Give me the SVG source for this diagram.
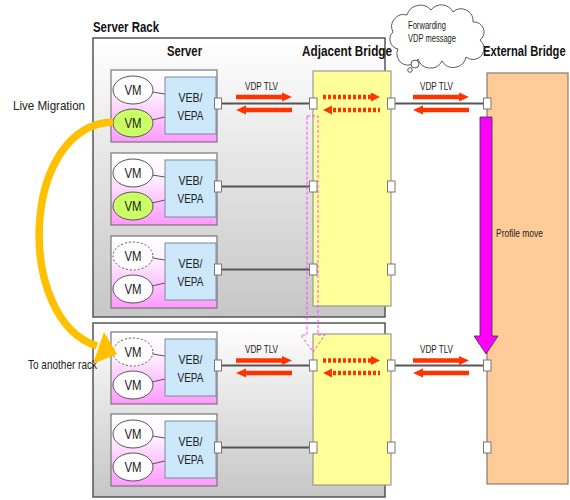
<svg xmlns="http://www.w3.org/2000/svg" width="570" height="500" viewBox="0 0 570 500">
  <defs>
    <linearGradient id="rackFill" x1="0" y1="0" x2="0" y2="1">
      <stop offset="0" stop-color="#ffffff"/>
      <stop offset="1" stop-color="#c6c6c6"/>
    </linearGradient>
    <linearGradient id="serverFill" x1="0" y1="0" x2="0" y2="1">
      <stop offset="0" stop-color="#ffffff"/>
      <stop offset="0.3" stop-color="#fff4ff"/>
      <stop offset="1" stop-color="#ff99ff"/>
    </linearGradient>
    <!-- one server: frame, two VMs, VEB/VEPA block -->
    <g id="serverBody">
      <rect class="srv" x="111" y="0" width="106" height="72"/>
      <line class="vmLink" x1="152" y1="22" x2="165" y2="24"/>
      <line class="vmLink" x1="152" y1="50" x2="165" y2="47"/>
      <rect class="veb" x="165" y="7" width="51" height="57"/>
      <text class="veb-t" x="190.5" y="32" textLength="24" lengthAdjust="spacingAndGlyphs">VEB/</text>
      <text class="veb-t" x="190.5" y="50" textLength="26" lengthAdjust="spacingAndGlyphs">VEPA</text>
    </g>
  </defs>
  <style>
    text { font-family: "Liberation Sans", Arial, sans-serif; fill: #222; }
    .rack { fill: url(#rackFill); stroke: #555; stroke-width: 1.5; }
    .srv { fill: url(#serverFill); stroke: #777; stroke-width: 1.2; }
    .veb { fill: #cce8fa; stroke: #7a8a95; stroke-width: 1; }
    .veb-t { font-size: 13px; text-anchor: middle; }
    .vmLink { stroke: #555; stroke-width: 1; }
    .vm { fill: #ffffff; stroke: #555; stroke-width: 1; }
    .vm-green { fill: #ccff66; }
    .vm-ghost { stroke-dasharray: 2 2; }
    .vm-t { font-size: 14px; text-anchor: middle; }
    .title { font-size: 14px; font-weight: bold; fill: #111; }
    .side { font-size: 13px; fill: #222; }
    .tlv { font-size: 11px; fill: #222; }
    .adj { fill: #ffff99; stroke: #999; stroke-width: 1.2; }
    .ext { fill: #ffcc99; stroke: #8a7a6a; stroke-width: 1.2; }
    .port { fill: #ffffff; stroke: #777; stroke-width: 1; }
    .wire { stroke: #555; stroke-width: 2; fill: none; }
    .tlvLine { stroke: #ff3300; stroke-width: 4.5; fill: none; }
    .tlvDot { stroke: #ff3300; stroke-width: 4.5; fill: none; stroke-dasharray: 3 2; }
    .tlvHead { fill: #ff3300; }
    .ghostPath { fill: none; stroke: #ff44ff; stroke-width: 1; stroke-dasharray: 3 2; }
  </style>

  <rect x="0" y="0" width="570" height="500" fill="#ffffff"/>

  <!-- racks -->
  <g id="rack-1">
    <rect class="rack" x="93" y="38" width="292" height="279"/>
  </g>
  <g id="rack-2">
    <rect class="rack" x="93" y="323" width="292" height="174"/>
  </g>

  <!-- headings -->
  <g id="labels">
    <text class="title" x="93" y="32" textLength="66" lengthAdjust="spacingAndGlyphs">Server Rack</text>
    <text class="title" x="167" y="56" textLength="35" lengthAdjust="spacingAndGlyphs">Server</text>
    <text class="title" x="302" y="56" textLength="90" lengthAdjust="spacingAndGlyphs">Adjacent  Bridge</text>
    <text class="title" transform="translate(483,56) scale(0.8,1)" x="0" y="0">External Bridge</text>
    <text class="side" x="13" y="110" font-size="14" textLength="72" lengthAdjust="spacingAndGlyphs">Live Migration</text>
    <text class="side" x="28" y="369" textLength="69" lengthAdjust="spacingAndGlyphs">To another rack</text>
  </g>

  <!-- servers -->
  <g id="server-1" transform="translate(0,70)">
    <use href="#serverBody"/>
    <ellipse class="vm" cx="133" cy="20" rx="20" ry="14"/>
    <text class="vm-t" x="133" y="25" textLength="17" lengthAdjust="spacingAndGlyphs">VM</text>
    <ellipse class="vm vm-green" cx="133" cy="53" rx="20" ry="14"/>
    <text class="vm-t" x="133" y="58" textLength="17" lengthAdjust="spacingAndGlyphs">VM</text>
  </g>
  <g id="server-2" transform="translate(0,153)">
    <use href="#serverBody"/>
    <ellipse class="vm" cx="133" cy="20" rx="20" ry="14"/>
    <text class="vm-t" x="133" y="25" textLength="17" lengthAdjust="spacingAndGlyphs">VM</text>
    <ellipse class="vm vm-green" cx="133" cy="53" rx="20" ry="14"/>
    <text class="vm-t" x="133" y="58" textLength="17" lengthAdjust="spacingAndGlyphs">VM</text>
  </g>
  <g id="server-3" transform="translate(0,236)">
    <use href="#serverBody"/>
    <ellipse class="vm vm-ghost" cx="133" cy="20" rx="20" ry="14"/>
    <text class="vm-t" x="133" y="25" textLength="17" lengthAdjust="spacingAndGlyphs">VM</text>
    <ellipse class="vm" cx="133" cy="53" rx="20" ry="14"/>
    <text class="vm-t" x="133" y="58" textLength="17" lengthAdjust="spacingAndGlyphs">VM</text>
  </g>
  <g id="server-4" transform="translate(0,332)">
    <use href="#serverBody"/>
    <ellipse class="vm vm-ghost" cx="133" cy="20" rx="20" ry="14"/>
    <text class="vm-t" x="133" y="25" textLength="17" lengthAdjust="spacingAndGlyphs">VM</text>
    <ellipse class="vm" cx="133" cy="53" rx="20" ry="14"/>
    <text class="vm-t" x="133" y="58" textLength="17" lengthAdjust="spacingAndGlyphs">VM</text>
  </g>
  <g id="server-5" transform="translate(0,414)">
    <use href="#serverBody"/>
    <ellipse class="vm" cx="133" cy="20" rx="20" ry="14"/>
    <text class="vm-t" x="133" y="25" textLength="17" lengthAdjust="spacingAndGlyphs">VM</text>
    <ellipse class="vm" cx="133" cy="53" rx="20" ry="14"/>
    <text class="vm-t" x="133" y="58" textLength="17" lengthAdjust="spacingAndGlyphs">VM</text>
  </g>

  <!-- bridges -->
  <g id="adjacent-bridge-1">
    <rect class="adj" x="313" y="71" width="78" height="235"/>
  </g>
  <g id="adjacent-bridge-2">
    <rect class="adj" x="313" y="334" width="78" height="151"/>
  </g>
  <g id="external-bridge">
    <rect class="ext" x="487" y="73" width="81" height="411"/>
    <text class="tlv" x="496" y="237" font-size="10" textLength="47" lengthAdjust="spacingAndGlyphs">Profile move</text>
  </g>

  <!-- connectors -->
  <g id="connectors">
    <!-- links -->
    <line class="wire" x1="221" y1="103.5" x2="313" y2="103.5"/>
    <line class="wire" x1="221" y1="186.5" x2="313" y2="186.5"/>
    <line class="wire" x1="221" y1="269.5" x2="313" y2="269.5"/>
    <line class="wire" x1="391" y1="103.5" x2="487" y2="103.5"/>
    <line class="wire" x1="221" y1="365.5" x2="313" y2="365.5"/>
    <line class="wire" x1="221" y1="447.5" x2="313" y2="447.5"/>
    <line class="wire" x1="391" y1="365.5" x2="487" y2="365.5"/>

    <!-- port profile moving between adjacent bridges -->
    <polygon class="ghostPath" points="307,116 318,116 318,335 325,335 313,352 301,335 307,335"/>

    <!-- ports -->
    <g id="ports">
      <rect class="port" x="214.5" y="98" width="7" height="11"/>
      <rect class="port" x="214.5" y="181" width="7" height="11"/>
      <rect class="port" x="214.5" y="264" width="7" height="11"/>
      <rect class="port" x="214.5" y="360" width="7" height="11"/>
      <rect class="port" x="214.5" y="442" width="7" height="11"/>
      <rect class="port" x="309.5" y="98" width="7.5" height="11"/>
      <rect class="port" x="309.5" y="181" width="7.5" height="11"/>
      <rect class="port" x="309.5" y="264" width="7.5" height="11"/>
      <rect class="port" x="309.5" y="360" width="7.5" height="11"/>
      <rect class="port" x="309.5" y="442" width="7.5" height="11"/>
      <rect class="port" x="387.5" y="98" width="7.5" height="11"/>
      <rect class="port" x="387.5" y="181" width="7.5" height="11"/>
      <rect class="port" x="387.5" y="264" width="7.5" height="11"/>
      <rect class="port" x="387.5" y="360" width="7.5" height="11"/>
      <rect class="port" x="387.5" y="442" width="7.5" height="11"/>
      <rect class="port" x="483.5" y="98" width="7.5" height="11"/>
      <rect class="port" x="483.5" y="360" width="7.5" height="11"/>
      <rect class="port" x="483.5" y="442" width="7.5" height="11"/>
    </g>

    <!-- VDP TLV exchanges, upper rack -->
    <text class="tlv" x="245" y="90" textLength="33" lengthAdjust="spacingAndGlyphs">VDP TLV</text>
    <line class="tlvLine" x1="236" y1="97" x2="283" y2="97"/>
    <polygon class="tlvHead" points="282,92.5 292,97 282,101.5"/>
    <line class="tlvLine" x1="245" y1="110" x2="292" y2="110"/>
    <polygon class="tlvHead" points="236,110 246,105.5 246,114.5"/>

    <line class="tlvDot" x1="323" y1="97" x2="371" y2="97"/>
    <polygon class="tlvHead" points="371,92.5 380,97 371,101.5"/>
    <line class="tlvDot" x1="333" y1="110" x2="380" y2="110"/>
    <polygon class="tlvHead" points="323,110 332,105.5 332,114.5"/>

    <text class="tlv" x="420" y="90" textLength="33" lengthAdjust="spacingAndGlyphs">VDP TLV</text>
    <line class="tlvLine" x1="413" y1="97" x2="460" y2="97"/>
    <polygon class="tlvHead" points="459,92.5 469,97 459,101.5"/>
    <line class="tlvLine" x1="422" y1="110" x2="469" y2="110"/>
    <polygon class="tlvHead" points="413,110 423,105.5 423,114.5"/>

    <!-- VDP TLV exchanges, lower rack -->
    <text class="tlv" x="245" y="353" textLength="33" lengthAdjust="spacingAndGlyphs">VDP TLV</text>
    <line class="tlvLine" x1="236" y1="360.5" x2="283" y2="360.5"/>
    <polygon class="tlvHead" points="282,356 292,360.5 282,365"/>
    <line class="tlvLine" x1="245" y1="373" x2="292" y2="373"/>
    <polygon class="tlvHead" points="236,373 246,368.5 246,377.5"/>

    <line class="tlvDot" x1="323" y1="360.5" x2="371" y2="360.5"/>
    <polygon class="tlvHead" points="371,356 380,360.5 371,365"/>
    <line class="tlvDot" x1="333" y1="373" x2="380" y2="373"/>
    <polygon class="tlvHead" points="323,373 332,368.5 332,377.5"/>

    <text class="tlv" x="420" y="353" textLength="33" lengthAdjust="spacingAndGlyphs">VDP TLV</text>
    <line class="tlvLine" x1="413" y1="360.5" x2="460" y2="360.5"/>
    <polygon class="tlvHead" points="459,356 469,360.5 459,365"/>
    <line class="tlvLine" x1="422" y1="373" x2="469" y2="373"/>
    <polygon class="tlvHead" points="413,373 423,368.5 423,377.5"/>

    <!-- profile move -->
    <polygon points="480,117 492,117 492,336 498,336 486,354 474,336 480,336" fill="#ff00ff" stroke="#333" stroke-width="0.8"/>

    <!-- live migration -->
    <path d="M113,122 C20,125 15,320 97,346" fill="none" stroke="#ffc000" stroke-width="7.5"/>
    <polygon points="117,354 104,332 93,364" fill="#ffc000"/>
  </g>

  <!-- callout -->
  <g id="callout" transform="translate(0,2)">
    <path d="M398,47 a10,10 0 0 1 -5,-17 a12,12 0 0 1 14,-17 a14,14 0 0 1 24,-5 a13,13 0 0 1 22,2 a12,12 0 0 1 20,10 a10,10 0 0 1 7,18 a11,11 0 0 1 -14,17 a13,13 0 0 1 -24,4 a13,13 0 0 1 -24,-2 a11,11 0 0 1 -20,-10 z" fill="#ffffff" stroke="#333" stroke-width="0.8"/>
    <circle cx="415" cy="62" r="4" fill="#ffffff" stroke="#333" stroke-width="0.8"/>
    <circle cx="410" cy="68" r="2.3" fill="#ffffff" stroke="#333" stroke-width="0.8"/>
    <text class="tlv" x="408" y="27" font-size="10" textLength="38" lengthAdjust="spacingAndGlyphs">Forwarding</text>
    <text class="tlv" x="408" y="40" font-size="10" textLength="48" lengthAdjust="spacingAndGlyphs">VDP message</text>
  </g>
</svg>
